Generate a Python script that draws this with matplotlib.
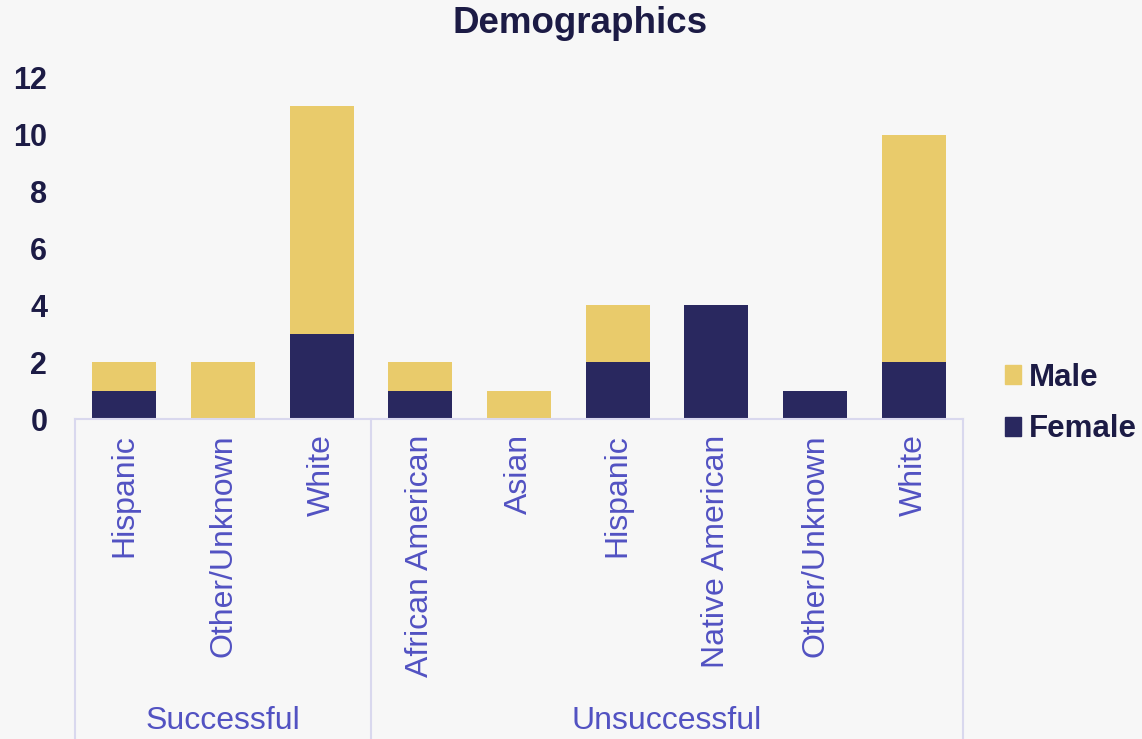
import matplotlib
matplotlib.use('Agg')
import matplotlib.pyplot as plt
import matplotlib.transforms as mtransforms
from matplotlib.patches import Patch

# data
categories = ['Hispanic', 'Other/Unknown', 'White',
              'African American', 'Asian', 'Hispanic', 'Native American', 'Other/Unknown', 'White']
groups = ['Successful', 'Unsuccessful']
group_sizes = [3, 6]
female = [1, 0, 3, 1, 0, 2, 4, 1, 2]
male = [1, 2, 8, 1, 1, 2, 0, 0, 8]

MALE_C = '#E9CB6B'
FEMALE_C = '#29285F'
TEXT_C = '#1c1b45'
LABEL_C = '#5252c2'
LINE_C = '#d9d8ee'
BG = '#f7f7f7'

plt.rcParams['font.family'] = ['Liberation Sans', 'DejaVu Sans']

fig = plt.figure(figsize=(11.42, 7.39), dpi=100, facecolor=BG)
ax = fig.add_axes([0.0657, 0.433, 0.8433 - 0.0657, 0.8945 - 0.433])
ax.set_facecolor(BG)

x = list(range(len(categories)))
ax.bar(x, female, width=0.65, color=FEMALE_C, zorder=2)
ax.bar(x, male, width=0.65, bottom=female, color=MALE_C, zorder=2)

ax.set_xlim(-0.5, len(categories) - 0.5)
ax.set_ylim(0, 12)
ax.set_yticks(range(0, 13, 2))
ax.tick_params(axis='y', length=0, labelsize=22, labelcolor=TEXT_C, pad=20)
for t in ax.get_yticklabels():
    t.set_fontweight('bold')

ax.set_xticks(x)
ax.set_xticklabels(categories, rotation=90, va='top', ha='center')
ax.tick_params(axis='x', length=0, labelsize=23, labelcolor=LABEL_C, pad=11)

for s in ['top', 'right', 'left']:
    ax.spines[s].set_visible(False)
ax.spines['bottom'].set_color(LINE_C)
ax.spines['bottom'].set_linewidth(1.5)

# group separators and labels
trans = mtransforms.blended_transform_factory(ax.transData, fig.transFigure)
edges = [-0.5]
for n in group_sizes:
    edges.append(edges[-1] + n)
for e in edges:
    ax.plot([e, e], [0.433, 0.0], transform=trans, color=LINE_C, lw=1.5, clip_on=False)
for g, a, b in zip(groups, edges[:-1], edges[1:]):
    ax.text((a + b) / 2, 0.024, g, transform=trans, ha='center', va='center',
            fontsize=23, color=LABEL_C)

fig.text(0.508, 0.968, 'Demographics', ha='center', va='center', fontsize=26.5,
         fontweight='bold', color=TEXT_C)

handles = [Patch(color=MALE_C, label='Male'), Patch(color=FEMALE_C, label='Female')]
leg = fig.legend(handles=handles, loc='center left', bbox_to_anchor=(0.855, 0.454),
                 frameon=False, handlelength=0.53, handleheight=0.53, handletextpad=0.25,
                 labelspacing=0.7, prop={'size': 22.5, 'weight': 'bold'})
for t in leg.get_texts():
    t.set_color(TEXT_C)

fig.savefig('out.png', dpi=100, facecolor=BG)
